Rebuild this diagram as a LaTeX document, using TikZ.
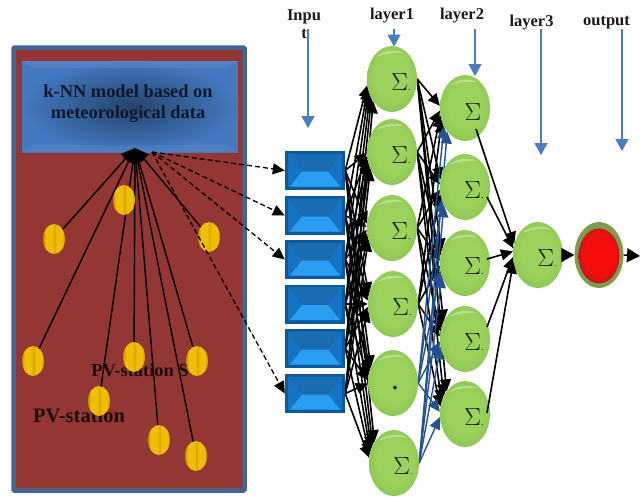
\documentclass[tikz,border=0pt]{standalone}
\usepackage{fontspec}
\setmainfont{Liberation Serif}
\usetikzlibrary{shapes.geometric,arrows.meta}
\definecolor{panelfill}{HTML}{943634}
\definecolor{paneledge}{HTML}{43658F}
\definecolor{topblue}{HTML}{4A7EBB}
\definecolor{deepblue}{HTML}{23528F}
\definecolor{gA}{HTML}{9AD25C}
\definecolor{gB}{HTML}{90C954}
\definecolor{gC}{HTML}{74A640}
\definecolor{yA}{HTML}{F0BE00}
\definecolor{yB}{HTML}{D8A200}
\definecolor{yC}{HTML}{C08C00}
\definecolor{rA}{HTML}{FF0A0A}
\definecolor{rB}{HTML}{EE1010}
\definecolor{rC}{HTML}{B01818}
\pgfdeclareradialshading{greenball}{\pgfpoint{0bp}{3bp}}{color(0bp)=(gA); color(17bp)=(gA); color(25bp)=(gB); color(30bp)=(gC); color(50bp)=(gC)}
\pgfdeclareradialshading{redball}{\pgfpoint{0bp}{2bp}}{color(0bp)=(rA); color(20bp)=(rB); color(28bp)=(rC); color(50bp)=(rC)}
\pgfdeclarehorizontalshading{goldball}{100bp}{color(0bp)=(yC); color(25bp)=(yC); color(31bp)=(yA); color(47bp)=(yA); color(51bp)=(yB); color(56bp)=(yA); color(69bp)=(yA); color(75bp)=(yC); color(100bp)=(yC)}
\pgfdeclarelayer{back}
\pgfdeclarelayer{wires}
\pgfsetlayers{back,wires,main}
\tikzset{
  ball/.style={shape=ellipse,inner sep=0pt,minimum width=50pt,minimum height=66pt,shade,shading=greenball},
  station/.style={shape=ellipse,inner sep=0pt,minimum width=22pt,minimum height=30pt,shade,shading=goldball},
  sigmark/.style={inner sep=0pt,font=\fontsize{23}{23}\selectfont,text=black!90},
  inbox/.style={shape=rectangle,inner sep=0pt,minimum width=60pt,minimum height=39pt,fill={rgb,255:red,11;green,90;blue,159}},
  conn/.style={line width=1.6pt,black,-{Triangle[length=12pt,width=11pt]}},
  blueconn/.style={line width=1.4pt,deepblue,-{Triangle[length=12pt,width=11pt]}},
  hubline/.style={line width=1.4pt,black,-{Triangle[length=14pt,width=13pt]}},
  dashline/.style={line width=1.3pt,black,dash pattern=on 5pt off 3pt,-{Triangle[length=12pt,width=11pt]}},
  toparrow/.style={line width=1.4pt,topblue,-{Triangle[length=12pt,width=13pt]}},
  headtext/.style={inner sep=0pt,font=\fontsize{16.5}{18}\selectfont\bfseries,text=black!90},
  pvtext/.style={inner sep=0pt,text={rgb,255:red,26;green,12;blue,12}}
}
\begin{document}
\begin{tikzpicture}[x=1pt,y=-1pt]
\useasboundingbox (0,0) rectangle (644,496);
\begin{pgfonlayer}{back}
  \draw[line width=4.5pt,draw=paneledge,fill=panelfill,rounded corners=1pt] (13.5,47.5) rectangle (244.5,490.5);
  \node[shape=rectangle,inner sep=0pt,minimum width=216pt,minimum height=91pt,inner color={rgb,255:red,38;green,68;blue,108},outer color={rgb,255:red,68;green,120;blue,192}] (knn) at (130,106.5) {};
  \fill[white,opacity=.08] (22,61) -- (238,61) -- (226,68) -- (34,68) -- cycle;
  \fill[white,opacity=.06] (22,152) -- (238,152) -- (226,145) -- (34,145) -- cycle;
  \node[inner sep=0pt,align=center,font=\fontsize{18.4}{21}\selectfont\bfseries,text={rgb,255:red,10;green,24;blue,44}] (knntext) at (128,103.5) {k-NN model based on\\meteorological data};
  \node[pvtext,font=\fontsize{18.4}{20}\selectfont\bfseries] (pvs) at (140,370.5) {PV-station S};
  \node[pvtext,font=\fontsize{20.5}{22}\selectfont\bfseries] (pv) at (79,416) {PV-station};
\end{pgfonlayer}

% stations
\foreach \n/\x/\y in {s1/54/239,s2/124/200,s3/209/237,s4/33/361,s5/134/357,s6/197/361,s7/99/401,s8/159/440,s9/196/456}
  \node[station] (\n) at (\x,\y) {};
\coordinate (hub) at (135,148);
\coordinate (hubr) at (152,152);
\begin{pgfonlayer}{wires}
  \foreach \n in {s1,s3,s4,s5,s6,s7,s8,s9}
    \draw[hubline,shorten <=-2pt] (\n) -- (hub);
\end{pgfonlayer}

% input boxes
\foreach \i/\y in {1/170.5,2/215.5,3/259.5,4/304,5/348.5,6/393.5}{
  \node[inbox] (in\i) at (315,\y) {};
  \begin{scope}[shift={(315,\y)}]
    \fill[fill={rgb,255:red,21;green,115;blue,196}] (-27,-17) rectangle (27,16);
    \fill[fill={rgb,255:red,26;green,108;blue,178}] (-27,-17) -- (27,-17) -- (13,1) -- (-13,1) -- cycle;
    \fill[fill={rgb,255:red,42;green,158;blue,240}] (-13,1) -- (13,1) -- (25,16) -- (-25,16) -- cycle;
  \end{scope}
}
\draw[dashline] (hubr) -- (in1.west);
\draw[dashline] (hubr) -- (in2.west);
\draw[dashline] (hubr) -- (in3.west);
\draw[dashline] (hubr) -- (in6.west);

% balls
\foreach \n/\x/\y in {a1/392/79,a2/392/152,a3/392/228,a4/393/304,a5/393/383,a6/394/463,b1/465/108,b2/465/187,b3/465/263,b4/465/339,b5/465/414,c1/538/255}{
  \node[ball] (\n) at (\x,\y) {};
  \begin{scope}[shift={(\x,\y)}]
    \fill[fill={rgb,255:red,195;green,229;blue,156},opacity=.75] (-16,-22) .. controls (-8,-29) and (4,-30) .. (12,-26) .. controls (3,-27) and (-8,-25) .. (-16,-22) -- cycle;
  \end{scope}
}
\foreach \n in {a1,a2,a3,a4,a6,b2,b3,b4,b5,c1}
  \node[sigmark] (m\n) at ([shift={(9,3)}]\n.center) {$\Sigma${\fontsize{10}{10}\selectfont .}};
\node[sigmark,font=\fontsize{26}{26}\selectfont] (mb1) at ([shift={(8,4)}]b1.center) {$\Sigma$};
\node[sigmark,font=\fontsize{22}{22}\selectfont\bfseries] (ma5) at ([shift={(2,5)}]a5.center) {.};

% output node
\node[shape=ellipse,inner sep=0pt,minimum width=49pt,minimum height=66pt,fill={rgb,255:red,122;green,158;blue,76}] (d1) at (599,255) {};
\node[shape=ellipse,inner sep=0pt,minimum width=41pt,minimum height=55pt,shade,shading=redball] (d2) at (599,256) {};

\begin{pgfonlayer}{wires}
  % input to layer 1
  \foreach \i/\yi in {1/170,2/215,3/259,4/304,5/348,6/393}
    \foreach \j/\yj in {1/79,2/152,3/228,4/304,5/383,6/463}{
      \pgfmathtruncatemacro\ang{180+0.16*(\yi-\yj)}
      \draw[conn] (in\i.east) -- (a\j.\ang);
    }
  % layer 1 to layer 2, black
  \foreach \j/\yj in {1/79,2/152,3/228,4/304}
    \foreach \k/\yk in {1/108,2/187,3/263,4/339,5/414}{
      \pgfmathtruncatemacro\ang{180+0.15*(\yj-\yk)}
      \draw[conn] (a\j.east) -- (b\k.\ang);
    }
  % layer 1 to layer 2, blue
  \foreach \j/\yj in {5/383,6/463}
    \foreach \k/\yk in {1/108,2/187,3/263,4/339,5/414}{
      \pgfmathtruncatemacro\ang{180+0.15*(\yj-\yk)}
      \draw[blueconn] (a\j.east) -- (b\k.\ang);
    }
\end{pgfonlayer}

% layer 2 to layer 3
\draw[conn] ([shift={(11,21)}]b1.center) -- (c1.155);
\draw[conn] ([shift={(22,10)}]b2.center) -- (c1.165);
\draw[conn] ([shift={(22,-4)}]b3.center) -- (c1.172);
\draw[conn] ([shift={(22,-12)}]b4.center) -- (c1.185);
\draw[conn] ([shift={(22,-1)}]b5.center) -- (c1.195);
\draw[line width=1.4pt,-{Triangle[length=13pt,width=14pt]}] (c1.east) -- (d1.west);
\coordinate (outend) at (640,256);
\draw[line width=1.4pt,-{Triangle[length=13pt,width=14pt]}] (d1.east) -- (outend);

% header labels and arrows
\node[headtext,align=center] (linput) at (304,24) {Inpu\\t};
\node[headtext] (l1) at (392,16) {layer1};
\node[headtext] (l2) at (462,16) {layer2};
\node[headtext] (l3) at (531.5,23) {layer3};
\node[headtext] (l4) at (606.5,23) {output};
\foreach \n/\x/\yend in {i/308/128,p/394/46.5,q/475/76,r/541/155,o/622/151}{
  \coordinate (\n top) at (\x,29);
  \coordinate (\n end) at (\x,\yend);
  \draw[toparrow] (\n top) -- (\n end);
}
\end{tikzpicture}
\end{document}
